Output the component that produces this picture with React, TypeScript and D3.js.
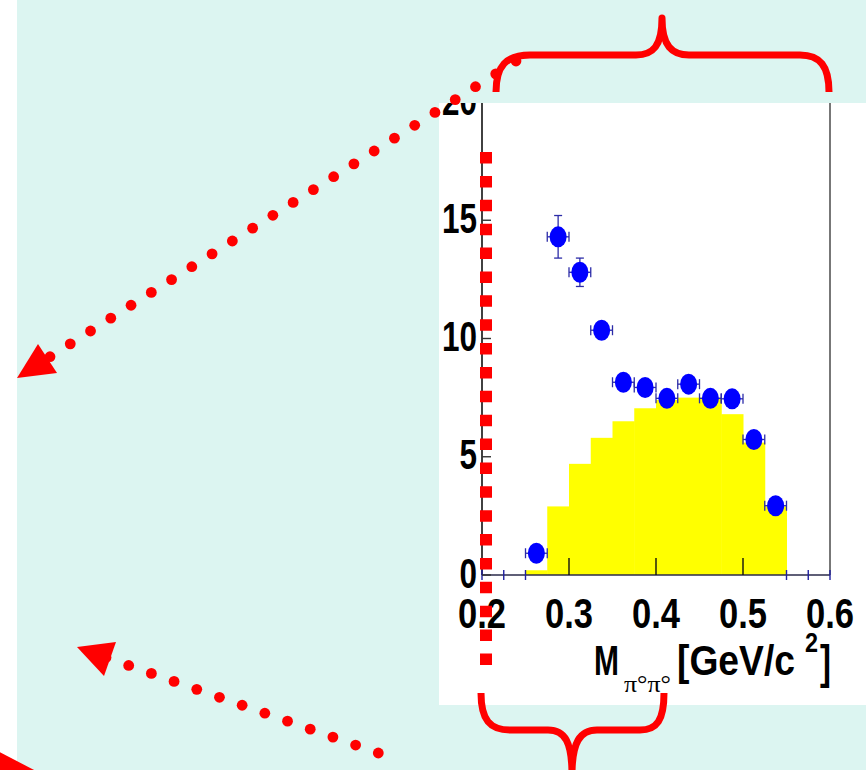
import * as d3 from 'd3';
import { useEffect, useRef } from 'react';

// MC histogram (yellow), bin low edges and contents
const binLow = [0.25, 0.275, 0.3, 0.325, 0.35, 0.375, 0.4, 0.425, 0.45, 0.475, 0.5, 0.525];
const binHeight = [0.2, 2.9, 4.7, 5.8, 6.5, 7.05, 7.4, 7.5, 7.5, 6.8, 5.6, 2.9];
const binWidth = 0.025;

// data points (blue)
const ptMass = [0.2625, 0.2875, 0.3125, 0.3375, 0.3625, 0.3875, 0.4125, 0.4375, 0.4625, 0.4875, 0.5125, 0.5375];
const ptCount = [0.92, 14.3, 12.8, 10.35, 8.15, 7.93, 7.47, 8.07, 7.47, 7.45, 5.73, 2.93];
const ptErr = [0.3, 0.9, 0.6, 0.35, 0.3, 0.3, 0.3, 0.3, 0.3, 0.3, 0.3, 0.3];

const yTicks = [0, 5, 10, 15, 20];
const xTicks = [0.2, 0.3, 0.4, 0.5, 0.6];
const xLongTicks = [0.3, 0.4, 0.5];
const xMinorTicks = [0.2, 0.225, 0.25, 0.55, 0.575, 0.6];

const W = 866;
const H = 770;

const App = () => {
    const ref = useRef<SVGSVGElement | null>(null);

    useEffect(() => {
        const svg = d3.select(ref.current);
        svg.selectAll('*').remove();

        const font = '"Liberation Sans", Arial, Helvetica, sans-serif';
        const red = '#ff0000';

        // background
        svg.append('rect').attr('x', 0).attr('y', 0).attr('width', W).attr('height', H).attr('fill', '#ffffff');
        svg.append('rect').attr('x', 17).attr('y', 0).attr('width', W - 17).attr('height', H).attr('fill', '#dcf5f1');

        // white plot panel
        const panel = { x: 439, y: 103, w: W - 439, h: 602 };
        svg.append('rect')
            .attr('x', panel.x).attr('y', panel.y)
            .attr('width', panel.w).attr('height', panel.h)
            .attr('fill', '#ffffff');

        svg.append('defs').append('clipPath').attr('id', 'panel-clip')
            .append('rect')
            .attr('x', panel.x).attr('y', panel.y)
            .attr('width', panel.w).attr('height', panel.h);

        const g = svg.append('g').attr('clip-path', 'url(#panel-clip)');

        const x = d3.scaleLinear().domain([0.2, 0.6]).range([482, 830]);
        const y = d3.scaleLinear().domain([0, 20]).range([575, 102]);

        // yellow histogram
        g.selectAll('.bin')
            .data(binLow)
            .enter()
            .append('rect')
            .attr('x', (d) => x(d))
            .attr('y', (d, i) => y(binHeight[i]))
            .attr('width', (d) => x(d + binWidth) - x(d) + 0.5)
            .attr('height', (d, i) => y(0) - y(binHeight[i]))
            .attr('fill', '#ffff00');

        // frame: left axis, right edge, bottom axis
        g.append('line')
            .attr('x1', x(0.2)).attr('x2', x(0.2))
            .attr('y1', y(20) - 10).attr('y2', y(0))
            .attr('stroke', '#111').attr('stroke-width', 1.6);
        g.append('line')
            .attr('x1', x(0.6)).attr('x2', x(0.6))
            .attr('y1', y(20) - 10).attr('y2', y(0))
            .attr('stroke', '#777').attr('stroke-width', 2);
        g.append('line')
            .attr('x1', x(0.2)).attr('x2', x(0.6))
            .attr('y1', y(0)).attr('y2', y(0))
            .attr('stroke', '#2a2a4a').attr('stroke-width', 1.6);

        // x ticks
        g.selectAll('.xminor')
            .data(xMinorTicks)
            .enter()
            .append('line')
            .attr('x1', (d) => x(d)).attr('x2', (d) => x(d))
            .attr('y1', y(0) - 5).attr('y2', y(0) + 5)
            .attr('stroke', '#2020a0').attr('stroke-width', 1.4);
        g.selectAll('.xlong')
            .data(xLongTicks)
            .enter()
            .append('line')
            .attr('x1', (d) => x(d)).attr('x2', (d) => x(d))
            .attr('y1', y(0) - 17).attr('y2', y(0))
            .attr('stroke', '#111').attr('stroke-width', 1.4);

        // y ticks
        g.selectAll('.ytick')
            .data(yTicks)
            .enter()
            .append('line')
            .attr('x1', x(0.2)).attr('x2', x(0.2) + 9)
            .attr('y1', (d) => y(d)).attr('y2', (d) => y(d))
            .attr('stroke', '#333').attr('stroke-width', 1.4);

        // tick labels
        g.selectAll('.ylab')
            .data(yTicks)
            .enter()
            .append('text')
            .attr('x', 477)
            .attr('y', (d) => y(d) + 12.5)
            .attr('text-anchor', 'end')
            .attr('textLength', (d) => String(d).length * 17.5)
            .attr('lengthAdjust', 'spacingAndGlyphs')
            .style('font-family', font)
            .style('font-weight', 'bold')
            .style('font-size', '43px')
            .style('fill', '#000')
            .text((d) => String(d));

        g.selectAll('.xlab')
            .data(xTicks)
            .enter()
            .append('text')
            .attr('x', (d) => x(d) - 24)
            .attr('y', 628)
            .attr('textLength', 48)
            .attr('lengthAdjust', 'spacingAndGlyphs')
            .style('font-family', font)
            .style('font-weight', 'bold')
            .style('font-size', '42px')
            .style('fill', '#000')
            .text((d) => d3.format('.1f')(d));

        // axis title  M_{pi0 pi0} [GeV/c^2]
        const title = (tx, ty, str, len, size, fam = font, weight = 'bold') =>
            g.append('text')
                .attr('x', tx).attr('y', ty)
                .attr('textLength', len)
                .attr('lengthAdjust', 'spacingAndGlyphs')
                .style('font-family', fam)
                .style('font-weight', weight)
                .style('font-size', `${size}px`)
                .style('fill', '#000')
                .text(str);
        title(594, 675, 'M', 25, 42);
        title(624, 692, 'π°π°', 47, 24, '"Liberation Serif", "Times New Roman", serif', 'normal');
        title(677, 675, '[GeV/c', 118, 42);
        title(805, 652, '2', 13, 28);
        title(820, 678, ']', 11, 47);

        // error bars
        const errColor = '#2c2ca8';
        const pts = g.append('g');
        ptMass.forEach((m, i) => {
            const cx = x(m);
            const cy = y(ptCount[i]);
            const xl = x(m - binWidth / 2);
            const xr = x(m + binWidth / 2);
            const yt = y(ptCount[i] + ptErr[i]);
            const yb = y(ptCount[i] - ptErr[i]);
            pts.append('line').attr('x1', xl).attr('x2', xr).attr('y1', cy).attr('y2', cy)
                .attr('stroke', errColor).attr('stroke-width', 1.3);
            [xl, xr].forEach((ex) => {
                pts.append('line').attr('x1', ex).attr('x2', ex).attr('y1', cy - 5).attr('y2', cy + 5)
                    .attr('stroke', errColor).attr('stroke-width', 1.3);
            });
            pts.append('line').attr('x1', cx).attr('x2', cx).attr('y1', yt).attr('y2', yb)
                .attr('stroke', errColor).attr('stroke-width', 1.3);
            [yt, yb].forEach((ey) => {
                pts.append('line').attr('x1', cx - 4).attr('x2', cx + 4).attr('y1', ey).attr('y2', ey)
                    .attr('stroke', errColor).attr('stroke-width', 1.3);
            });
        });
        pts.selectAll('.pt')
            .data(ptMass)
            .enter()
            .append('ellipse')
            .attr('cx', (d) => x(d))
            .attr('cy', (d, i) => y(ptCount[i]))
            .attr('rx', 8.5)
            .attr('ry', 10.5)
            .attr('fill', '#0000ff');

        // red vertical dashed line
        svg.append('line')
            .attr('x1', 486).attr('x2', 486)
            .attr('y1', 152).attr('y2', 665)
            .attr('stroke', red).attr('stroke-width', 12)
            .attr('stroke-dasharray', '11.5 12.38');

        // braces
        svg.append('path')
            .attr('d', 'M496,92 C496,66 506,55 530,55 L636,55 C653,55 662,46 662,18 C662,46 672,55 689,55 L800,55 C820,55 829,66 829,92')
            .attr('fill', 'none').attr('stroke', red).attr('stroke-width', 7)
            .attr('stroke-linejoin', 'round');
        svg.append('path')
            .attr('d', 'M481,693 C481,720 490,730 510,730 L548,730 C565,730 572,742 572,775 C572,742 580,730 597,730 L640,730 C657,730 664,720 664,693')
            .attr('fill', 'none').attr('stroke', red).attr('stroke-width', 7)
            .attr('stroke-linejoin', 'round');

        // dotted arrows
        const dots = (x0, y0, x1, y1, n) => {
            d3.range(n).forEach((i) => {
                const t = i / (n - 1);
                svg.append('circle')
                    .attr('cx', x0 + (x1 - x0) * t)
                    .attr('cy', y0 + (y1 - y0) * t)
                    .attr('r', 5.4)
                    .attr('fill', red);
            });
        };
        dots(516, 61, 50, 356.7, 24);
        svg.append('polygon').attr('points', '17,378 38,344 57,373').attr('fill', red);

        dots(378.3, 753, 106, 657.5, 13);
        svg.append('polygon').attr('points', '77,647 116,642 104,676').attr('fill', red);

        svg.append('polygon').attr('points', '-12,746 36,771 -12,800').attr('fill', red);
    }, []);

    return (
        <div style={{ position: 'absolute', left: 0, top: 0, width: W, height: H }}>
            <svg ref={ref} width={W} height={H} style={{ display: 'block' }}></svg>
        </div>
    );
};

export default App;
